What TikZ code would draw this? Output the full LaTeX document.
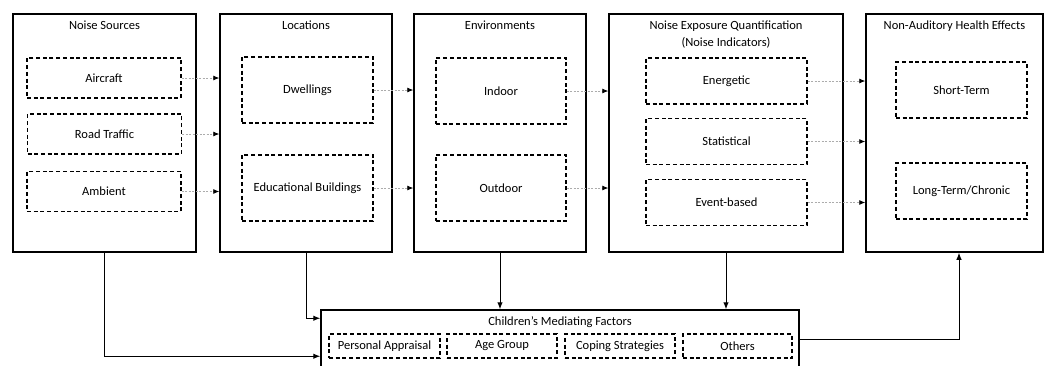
\documentclass[tikz,border=0pt]{standalone}
\usepackage{fontspec}
\setmainfont{Carlito}
\usetikzlibrary{arrows.meta}
\usetikzlibrary{positioning}

\begin{document}
\begin{tikzpicture}[x=1pt, y=-1pt, font=\fontsize{12.5}{14}\selectfont,
	grp/.style={draw, line width=1.5pt, minimum height=238pt},
	item/.style={draw, line width=1.1pt, dash pattern=on 4pt off 2.7pt, inner sep=0pt},
	ttl/.style={inner sep=0pt, text height=8.5pt, text depth=2.5pt},
	dotarr/.style={draw=gray!65, line width=0.8pt, dash pattern=on 2pt off 1.5pt, -{Latex[length=6pt, width=5pt, black]}},
	solarr/.style={line width=1pt, -{Latex[length=7pt, width=5.5pt]}}]
				\path[use as bounding box, fill=white] (0,0) rectangle (1045,365);
				\node[grp, minimum width=183pt] (src) at (104.5,133) {};
				\node[grp, minimum width=172pt] (loc) at (306,133) {};
				\node[grp, minimum width=172pt] (env) at (500,133) {};
				\node[grp, minimum width=234pt] (quant) at (726,133) {};
				\node[grp, minimum width=177pt] (eff) at (954.5,133) {};
				\node[grp, minimum width=478pt, minimum height=58pt] (med) at (560,339) {};
				\node[ttl] (srct) at (104.5,26) {Noise Sources};
				\node[ttl] (loct) at (306,26) {Locations};
				\node[ttl] (envt) at (500,26) {Environments};
				\node[ttl] (quantt) at (726,26) {Noise Exposure Quantification};
				\node[ttl] (quantt2) at (726,43) {(Noise Indicators)};
				\node[ttl] (efft) at (954.5,26) {Non-Auditory Health Effects};
				\node[ttl] (medt) at (560,322) {Children’s Mediating Factors};
				\node[item, minimum width=154pt, minimum height=40pt] (src1) at (104,78) {Aircraft};
				\node[item, minimum width=154pt, minimum height=40pt] (src2) at (104.5,134) {Road Traffic};
				\node[item, minimum width=154pt, minimum height=40pt] (src3) at (104,191.5) {Ambient};
				\node[item, minimum width=131pt, minimum height=66pt] (loc1) at (307.5,90) {Dwellings};
				\node[item, minimum width=131pt, minimum height=66pt] (loc2) at (307.5,188) {Educational Buildings};
				\node[item, minimum width=130pt, minimum height=66pt] (env1) at (501,91) {Indoor};
				\node[item, minimum width=130pt, minimum height=66pt] (env2) at (501,188) {Outdoor};
				\node[item, minimum width=161pt, minimum height=46pt] (quant1) at (726.5,81) {Energetic};
				\node[item, minimum width=161pt, minimum height=46pt] (quant2) at (726.5,141.5) {Statistical};
				\node[item, minimum width=161pt, minimum height=46pt] (quant3) at (726.5,202.5) {Event-based};
				\node[item, minimum width=131pt, minimum height=56pt] (eff1) at (961.5,90) {Short-Term};
				\node[item, minimum width=131pt, minimum height=56pt] (eff2) at (961.5,191) {Long-Term/Chronic};
				\node[item, minimum width=111pt, minimum height=24pt] (med1) at (384.5,346) {Personal Appraisal};
				\node[item, minimum width=110pt, minimum height=24pt] (med2) at (502,346) {Age Group};
				\node[item, minimum width=110pt, minimum height=24pt] (med3) at (620,346) {Coping Strategies};
				\node[item, minimum width=109pt, minimum height=24pt] (med4) at (737.5,346) {Others};
				\draw[dotarr] (src1.east) -- (src1.east -| loc.west);
				\draw[dotarr] (src2.east) -- (src2.east -| loc.west);
				\draw[dotarr] (src3.east) -- (src3.east -| loc.west);
				\draw[dotarr] (loc1.east) -- (loc1.east -| env.west);
				\draw[dotarr] (loc2.east) -- (loc2.east -| env.west);
				\draw[dotarr] (env1.east) -- (env1.east -| quant.west);
				\draw[dotarr] (env2.east) -- (env2.east -| quant.west);
				\draw[dotarr] (quant1.east) -- (quant1.east -| eff.west);
				\draw[dotarr] (quant2.east) -- (quant2.east -| eff.west);
				\draw[dotarr] (quant3.east) -- (quant3.east -| eff.west);
				\draw[solarr] (src.south) |- ([yshift=-47pt]med.north west);
				\draw[solarr] (loc.south) |- ([yshift=-9pt]med.north west);
				\draw[solarr] (env.south) -- (env.south |- med.north);
				\draw[solarr] (quant.south) -- (quant.south |- med.north);
				\draw[solarr] (med.east) -| ([xshift=4.5pt]eff.south);
			\end{tikzpicture}
\end{document}
